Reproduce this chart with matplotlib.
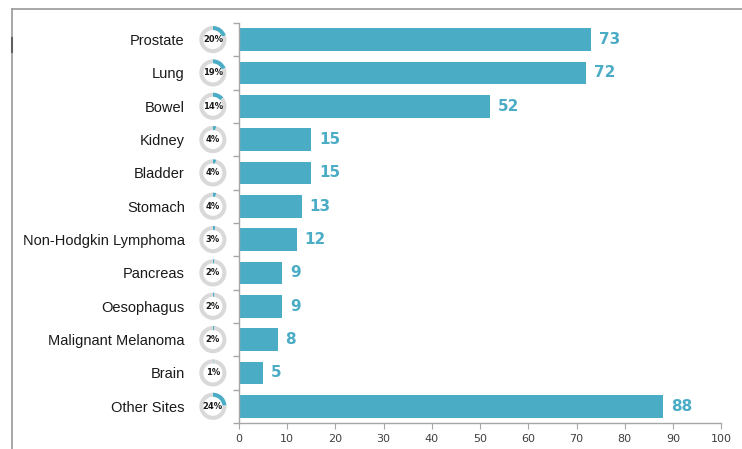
import matplotlib.pyplot as plt
from matplotlib.transforms import blended_transform_factory
from matplotlib.lines import Line2D

# cancer sites, counts and share of all cases
sites = ['Prostate', 'Lung', 'Bowel', 'Kidney', 'Bladder', 'Stomach',
         'Non-Hodgkin Lymphoma', 'Pancreas', 'Oesophagus',
         'Malignant Melanoma', 'Brain', 'Other Sites']
counts = [73, 72, 52, 15, 15, 13, 12, 9, 9, 8, 5, 88]
share = [20, 19, 14, 4, 4, 4, 3, 2, 2, 2, 1, 24]
xticks = list(range(0, 101, 10))

blue = '#4BACC6'
ring = '#D9D9D9'
axis_col = '#A6A6A6'

plt.rcParams['font.family'] = ['Liberation Sans', 'DejaVu Sans']

fig = plt.figure(figsize=(7.42, 4.49), dpi=100)
ax = fig.add_axes([0.322, 0.058, 0.65, 0.891])

n = len(sites)
ypos = [n - 1 - i for i in range(n)]  # first site at the top
ax.barh(ypos, counts, height=0.68, color=blue)
ax.set_ylim(-0.5, n - 0.5)
ax.set_xlim(0, 100)

for y, v in zip(ypos, counts):
    ax.text(v + 1.6, y, str(v), va='center', ha='left', color=blue,
            fontsize=11, fontweight='bold', family='DejaVu Sans')

ax.set_yticks(ypos)
ax.set_yticklabels(sites, fontsize=10.5, color='#1a1a1a')
ax.tick_params(axis='y', length=0, pad=39)
ax.set_yticks([k - 0.5 for k in range(n + 1)], minor=True)
ax.tick_params(axis='y', which='minor', length=4, color=axis_col, width=1)

ax.set_xticks(xticks)
ax.tick_params(axis='x', labelsize=8, labelcolor='#404040', length=4,
               color=axis_col, pad=4)
for lbl in ax.get_xticklabels():
    lbl.set_family('DejaVu Sans')

for s in ['top', 'right']:
    ax.spines[s].set_visible(False)
for s in ['left', 'bottom']:
    ax.spines[s].set_color(axis_col)
    ax.spines[s].set_linewidth(1)

# little donut per row showing percentage share
trans = blended_transform_factory(ax.transAxes, ax.transData)
for y, p in zip(ypos, share):
    dax = ax.inset_axes([-0.085, y - 0.5, 0.062, 1.0], transform=trans)
    dax.pie([p, 100 - p], colors=[blue, ring], startangle=90, counterclock=False,
            radius=1, wedgeprops=dict(width=0.3, edgecolor='none'))
    dax.set_xlim(-1.1, 1.1)
    dax.set_ylim(-1.1, 1.1)
    dax.set_aspect('equal')
    dax.axis('off')
    dax.text(0, 0, f'{p}%', ha='center', va='center', fontsize=6,
             fontweight='bold', color='#1a1a1a', family='DejaVu Sans')

# outer frame
fw, fh = 742, 449
fig.add_artist(Line2D([12 / fw, 1], [1 - 9 / fh, 1 - 9 / fh], color='#A0A0A0', lw=1.3))
fig.add_artist(Line2D([12 / fw, 12 / fw], [0, 1 - 9 / fh], color='#A0A0A0', lw=1.3))
fig.add_artist(Line2D([12 / fw, 12 / fw], [1 - 38 / fh, 1 - 52 / fh], color='#606060', lw=1.5))

fig.savefig('out.png', dpi=100)
